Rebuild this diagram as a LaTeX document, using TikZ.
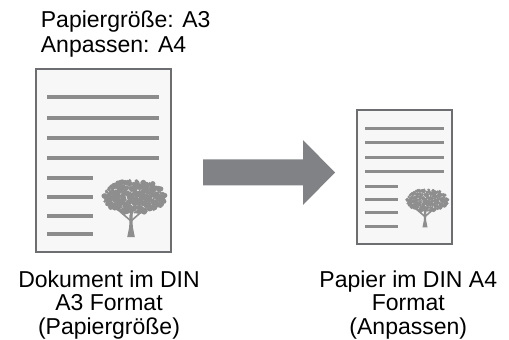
\documentclass[tikz,border=0pt]{standalone}
\usepackage{fontspec}
\setmainfont{Liberation Sans}
\definecolor{pageedge}{HTML}{6D6E71}
\definecolor{pagefill}{HTML}{F7F7F7}
\definecolor{inkline}{HTML}{8C8C8C}
\definecolor{arrowgray}{HTML}{808285}
\definecolor{treegray}{HTML}{8E8E8E}
\tikzset{
  sheet/.style={draw=pageedge, fill=pagefill, line width=2pt, inner sep=0pt, rectangle},
  textrow/.style={draw=inkline, line width=#1},
  caption/.style={inner sep=0pt, align=center, font=\fontsize{23}{23.5}\selectfont},
  oaktree/.pic={
    \pgfmathsetseed{42}
    % trunk
    \fill[treegray] (-3.8,0) -- (3.8,0) -- (1.8,-10) -- (1.5,-22) -- (-1.5,-22) -- (-1.8,-10) -- cycle;
    % main branches
    \draw[treegray, line width=1.6pt, line cap=round]
      (0,-16) -- (-14,-28) (0,-16) -- (16,-30) (0,-20) -- (-3,-46)
      (0,-20) -- (9,-48) (-6,-23) -- (-22,-32) (8,-24) -- (27,-32);
    % speckled crown
    \foreach \k in {1,...,520}{
      \pgfmathsetmacro\tang{rnd*360}
      \pgfmathsetmacro\trad{sqrt(rnd)}
      \pgfmathsetmacro\tdia{1.0+rnd*1.6}
      \pgfmathsetmacro\tx{3.5+31*\trad*cos(\tang)}
      \pgfmathsetmacro\ty{-39+\trad*sin(\tang)*(sin(\tang)>0 ? 15 : 18)}
      \fill[treegray] (\tx,\ty) circle (\tdia);
    }
  },
}
\begin{document}
\begin{tikzpicture}[x=1pt, y=-1pt]
\useasboundingbox (0,0) rectangle (509,340);

% settings caption
\node[caption, anchor=north west, align=left, font=\fontsize{23}{25}\selectfont]
  (modes) at (40.7,10.5) {Papiergröße: A3\\Anpassen: A4};

% original sheet (A3)
\node[sheet, minimum width=135pt, minimum height=183pt] (big) at (103.5,160.5) {};
\foreach \y in {96.7,117.7,137.7,158.3}
  \draw[textrow=4pt] (47.3,\y) -- (159.3,\y);
\foreach \y in {178.3,197,215.7,234.3}
  \draw[textrow=4pt] (47.3,\y) -- (92.7,\y);
\pic at (131,237) {oaktree};

% block arrow
\fill[arrowgray] (203,159.3) -- (303,159.3) -- (303,140) -- (335,172.5)
  -- (303,205) -- (303,185.3) -- (203,185.3) -- cycle;

% output sheet (A4)
\node[sheet, minimum width=95pt, minimum height=134pt] (small) at (404.5,177) {};
\foreach \y in {128.3,142.7,157.3,171.7}
  \draw[textrow=3pt] (365,\y) -- (444,\y);
\foreach \y in {186,199.3,212.7,226}
  \draw[textrow=3pt] (365,\y) -- (397.7,\y);
\pic[scale=0.67] at (425,227.3) {oaktree};

% sheet captions
\node[caption, anchor=north] (bigcap) at (109,270.5) {Dokument im DIN\\A3 Format\\(Papiergröße)};
\node[caption, anchor=north] (smallcap) at (408.3,270.5) {Papier im DIN A4\\Format\\(Anpassen)};
\end{tikzpicture}
\end{document}
